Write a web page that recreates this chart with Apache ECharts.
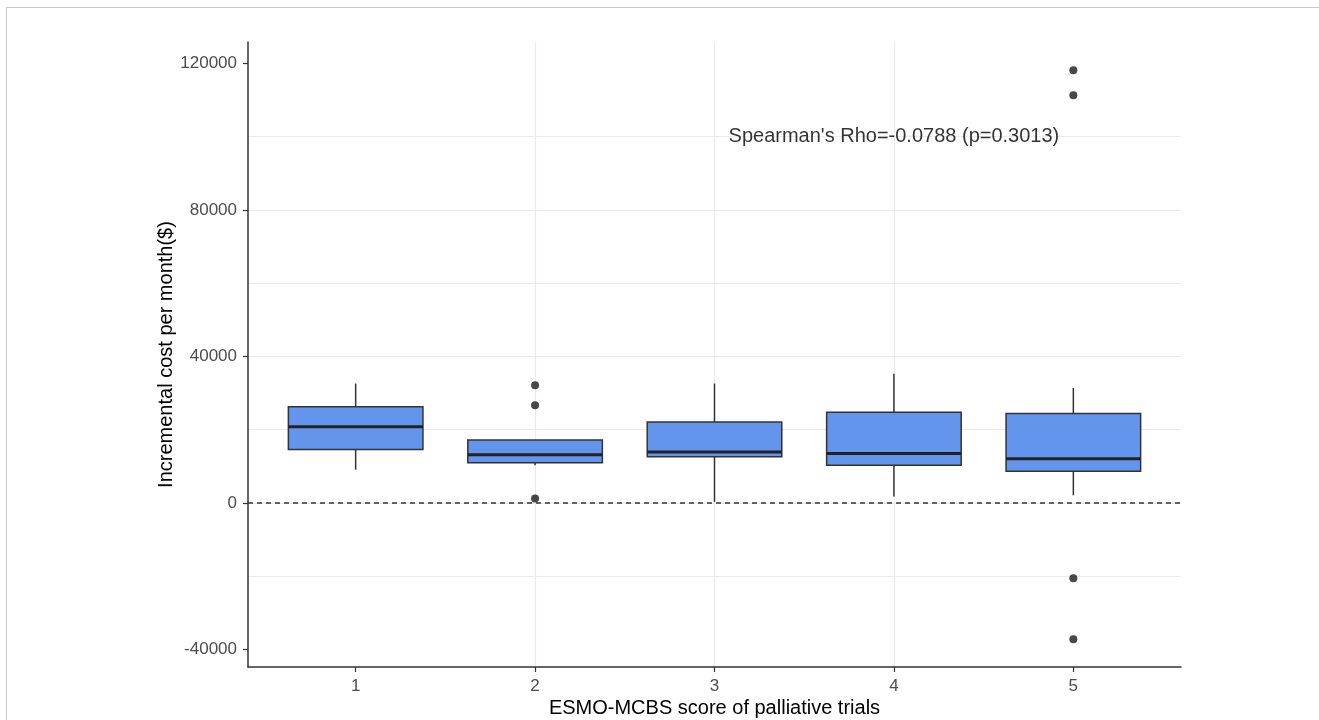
<!DOCTYPE html>
<html>
<head>
<meta charset="utf-8">
<title>ESMO-MCBS vs incremental cost</title>
<script src="https://cdn.jsdelivr.net/npm/echarts@6/dist/echarts.min.js"></script>
<style>
  html, body { margin: 0; padding: 0; background: #fff; overflow: hidden; width: 1319px; height: 720px; }
  .frame {
    position: absolute; left: 6px; top: 7px; width: 1313px; height: 713px; box-sizing: border-box;
    border-top: 1px solid #c8c8c8; border-left: 1px solid #c8c8c8;
  }
  #chart { position: absolute; left: 0; top: 0; width: 1319px; height: 720px; }
</style>
</head>
<body>
<div class="frame"></div>
<div id="chart"></div>
<script>
// box stats per ESMO-MCBS score
var categories = [1, 2, 3, 4, 5]
var whiskerLow = [9100, 10300, 300, 1800, 2100]
var lowerQuartile = [14600, 11000, 12600, 10300, 8700]
var medians = [20800, 13200, 13900, 13500, 12100]
var upperQuartile = [26300, 17200, 22100, 24800, 24400]
var whiskerHigh = [32600, 17200, 32600, 35300, 31400]

// outliers
var outlierCategory = [2, 2, 2, 5, 5, 5, 5]
var outlierValues = [32100, 26700, 1200, 118100, 111300, -20500, -37200]

// axis ticks
var yTickValues = [-40000, 0, 40000, 80000, 120000]
var yGridValues = [-40000, -20000, 0, 20000, 40000, 60000, 80000, 100000, 120000]
var yMin = -44750
var yMax = 125800
var xMin = 0.4
var xMax = 5.6

var annotationText = "Spearman's Rho=-0.0788 (p=0.3013)"
var annotationPos = [4, 100000]

var FONT = "'Liberation Sans', Arial, sans-serif"
var BOX_WIDTH = 0.75

var boxData = categories.map(function (c, i) {
  return [c, whiskerLow[i], lowerQuartile[i], medians[i], upperQuartile[i], whiskerHigh[i]]
})
var outlierData = outlierCategory.map(function (c, i) {
  return [c, outlierValues[i]]
})

function renderBox(params, api) {
  var x = api.value(0)
  var lo = api.coord([x, api.value(1)])
  var q1 = api.coord([x, api.value(2)])
  var med = api.coord([x, api.value(3)])
  var q3 = api.coord([x, api.value(4)])
  var hi = api.coord([x, api.value(5)])
  var half = api.size([BOX_WIDTH, 0])[0] / 2
  var stroke = '#333333'
  return {
    type: 'group',
    children: [
      { type: 'line', shape: { x1: hi[0], y1: hi[1], x2: q3[0], y2: q3[1] }, style: { stroke: stroke, lineWidth: 1.5 } },
      { type: 'line', shape: { x1: lo[0], y1: lo[1], x2: q1[0], y2: q1[1] }, style: { stroke: stroke, lineWidth: 1.5 } },
      {
        type: 'rect',
        shape: { x: q3[0] - half, y: q3[1], width: half * 2, height: q1[1] - q3[1] },
        style: { fill: '#6495ED', stroke: stroke, lineWidth: 1.5 },
      },
      { type: 'line', shape: { x1: med[0] - half, y1: med[1], x2: med[0] + half, y2: med[1] }, style: { stroke: '#222', lineWidth: 3 } },
    ],
  }
}

var chart = echarts.init(document.getElementById('chart'))
var option = {
  animation: false,
  textStyle: { fontFamily: FONT },
  grid: { left: 248, right: 138, top: 42, bottom: 53, containLabel: false, outerBoundsMode: 'none' },
  xAxis: {
    type: 'value',
    min: xMin,
    max: xMax,
    minInterval: 1,
    maxInterval: 1,
    name: 'ESMO-MCBS score of palliative trials',
    nameLocation: 'middle',
    nameGap: 31,
    nameMoveOverlap: false,
    nameTextStyle: { fontSize: 20, color: '#000', fontFamily: FONT },
    axisLine: { show: true, onZero: false, lineStyle: { color: '#333', width: 1.5 } },
    axisTick: { show: true, length: 5, customValues: categories, lineStyle: { color: '#333', width: 1.2 } },
    axisLabel: { customValues: categories, color: '#4d4d4d', fontSize: 17, margin: 11, fontFamily: FONT,
      formatter: function (v) { return String(v) } },
    splitLine: { show: true, showMinLine: false, showMaxLine: false, lineStyle: { color: '#ebebeb', width: 1.2 } },
  },
  yAxis: [
    {
      type: 'value',
      min: yMin,
      max: yMax,
      position: 'left',
      name: 'Incremental cost per month($)',
      nameLocation: 'middle',
      nameGap: 72,
      nameMoveOverlap: false,
      nameTextStyle: { fontSize: 20, color: '#000', fontFamily: FONT },
      axisLine: { show: true, onZero: false, lineStyle: { color: '#333', width: 1.5 } },
      axisTick: { show: true, length: 5, customValues: yTickValues, lineStyle: { color: '#333', width: 1.2 } },
      axisLabel: { customValues: yTickValues, color: '#4d4d4d', fontSize: 17, margin: 11, fontFamily: FONT,
        formatter: function (v) { return String(v) } },
      splitLine: { show: false },
    },
    {
      // only for the grid lines
      type: 'value',
      min: yMin,
      max: yMax,
      position: 'left',
      minInterval: 20000,
      maxInterval: 20000,
      axisLine: { show: false },
      axisTick: { show: false, customValues: yGridValues },
      axisLabel: { show: false },
      splitLine: { show: true, showMinLine: false, showMaxLine: false, lineStyle: { color: '#ebebeb', width: 1.2 } },
    },
  ],
  series: [
    {
      type: 'custom',
      name: 'box',
      yAxisIndex: 0,
      renderItem: renderBox,
      encode: { x: 0, y: [1, 2, 3, 4, 5] },
      data: boxData,
      silent: true,
      z: 3,
      markLine: {
        silent: true,
        symbol: ['none', 'none'],
        label: { show: false },
        lineStyle: { color: '#333', width: 1.5, type: [5, 4] },
        data: [{ yAxis: 0 }],
      },
    },
    {
      type: 'scatter',
      name: 'outliers',
      yAxisIndex: 0,
      symbolSize: 8,
      itemStyle: { color: '#1a1a1a' },
      data: outlierData,
      z: 4,
    },
    {
      type: 'scatter',
      name: 'annotation',
      yAxisIndex: 0,
      symbolSize: 0,
      silent: true,
      data: [annotationPos],
      label: {
        show: true,
        position: 'inside',
        formatter: annotationText,
        fontSize: 20,
        color: '#000',
        fontFamily: FONT,
      },
    },
  ],
}
chart.setOption(option)
</script>
</body>
</html>
